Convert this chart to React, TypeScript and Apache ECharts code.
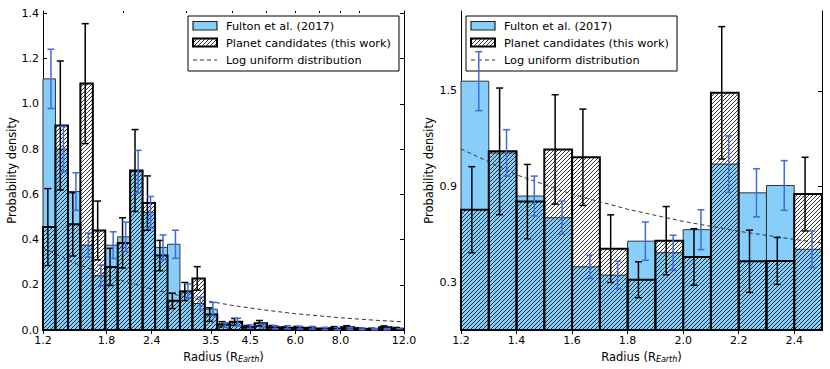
import React, { useEffect, useRef } from "react";
import * as echarts from "echarts";

const FONT = "DejaVu Sans";

// ---------- Left panel (log-spaced bins, R_Earth) ----------
const leftEdges = [1.2, 1.299, 1.407, 1.523, 1.649, 1.785, 1.932, 2.092, 2.265, 2.452, 2.655, 2.874, 3.112, 3.369, 3.647, 3.949, 4.275, 4.628, 5.011, 5.425, 5.873, 6.358, 6.884, 7.453, 8.069, 8.736, 9.457, 10.239, 11.085, 12.0];
const leftFulton = [1.11, 0.8, 0.612, 0.375, 0.24, 0.375, 0.412, 0.7, 0.52, 0.365, 0.379, 0.172, 0.117, 0.092, 0.022, 0.035, 0.015, 0.018, 0.012, 0.012, 0.01, 0.01, 0.007, 0.006, 0.006, 0.005, 0.004, 0.004, 0.003];
const leftFultonErr = [0.131, 0.1, 0.083, 0.053, 0.047, 0.059, 0.065, 0.094, 0.07, 0.055, 0.062, 0.032, 0.028, 0.03, 0.01, 0.017, 0.008, 0.008, 0.007, 0.007, 0.006, 0.006, 0.005, 0.005, 0.004, 0.004, 0.003, 0.003, 0.003];
const leftCand = [0.455, 0.904, 0.467, 1.089, 0.44, 0.279, 0.385, 0.705, 0.561, 0.329, 0.129, 0.17, 0.228, 0.068, 0.025, 0.036, 0.012, 0.03, 0.012, 0.008, 0.01, 0.006, 0.004, 0.009, 0.012, 0.005, 0.004, 0.012, 0.006];
const leftCandErr = [0.17, 0.285, 0.14, 0.265, 0.13, 0.082, 0.111, 0.181, 0.12, 0.067, 0.034, 0.04, 0.052, 0.03, 0.012, 0.015, 0.008, 0.012, 0.008, 0.006, 0.006, 0.005, 0.004, 0.006, 0.007, 0.005, 0.004, 0.006, 0.005];
const leftLogUniR = [1.2, 1.5, 2.0, 2.5, 3.0, 4.0, 5.0, 6.0, 8.0, 10.0, 12.0];
const leftLogUniP = [0.362, 0.29, 0.217, 0.174, 0.145, 0.109, 0.087, 0.072, 0.054, 0.043, 0.036];
const leftXTicks = [1.2, 1.8, 2.4, 3.5, 4.5, 6.0, 8.0, 12.0];
const leftXMinor = [2, 3, 4, 5, 6, 7, 8, 9];
const leftYTicks = [0, 0.2, 0.4, 0.6, 0.8, 1.0, 1.2, 1.4];

// ---------- Right panel (linear bins of 0.1 R_Earth) ----------
const rightEdges = [1.2, 1.3, 1.4, 1.5, 1.6, 1.7, 1.8, 1.9, 2.0, 2.1, 2.2, 2.3, 2.4, 2.5];
const rightFulton = [1.56, 1.11, 0.84, 0.704, 0.396, 0.344, 0.557, 0.484, 0.629, 1.04, 0.86, 0.906, 0.506];
const rightFultonErr = [0.185, 0.146, 0.125, 0.104, 0.073, 0.0875, 0.12, 0.11, 0.125, 0.177, 0.151, 0.156, 0.115];
const rightCand = [0.754, 1.12, 0.805, 1.132, 1.083, 0.51, 0.315, 0.56, 0.458, 1.487, 0.431, 0.433, 0.852];
const rightCandErr = [0.27, 0.397, 0.233, 0.343, 0.302, 0.212, 0.113, 0.214, 0.177, 0.415, 0.195, 0.147, 0.231];
const rightLogUniR = [1.2, 1.4, 1.6, 1.8, 2.0, 2.2, 2.4, 2.5];
const rightLogUniP = [1.135, 0.973, 0.851, 0.757, 0.681, 0.619, 0.568, 0.545];
const rightXTicks = [1.2, 1.4, 1.6, 1.8, 2.0, 2.2, 2.4];
const rightYTicks = [0.3, 0.9, 1.5];

const BLUE = "#87CEFA";
const ERR_BLUE = "#4169E1";
const HATCH_STEP = 4;

const lg = (v: number) => Math.log10(v);

function hatchSegments(x: number, y: number, w: number, h: number, s: number) {
  const out: number[][] = [];
  if (w <= 0 || h <= 0) return out;
  const cMin = x + y;
  const cMax = x + w + y + h;
  for (let k = Math.ceil(cMin / s); k * s <= cMax; k++) {
    const c = k * s;
    const xa = Math.max(x, c - (y + h));
    const xb = Math.min(x + w, c - y);
    if (xb - xa > 0.05) out.push([xa, c - xa, xb, c - xb]);
  }
  return out;
}

function hatchChildren(x: number, y: number, w: number, h: number) {
  return hatchSegments(x, y, w, h, HATCH_STEP).map((s) => ({
    type: "line",
    shape: { x1: s[0], y1: s[1], x2: s[2], y2: s[3] },
    style: { stroke: "#000", lineWidth: 0.8 },
  }));
}

function binData(edges: number[], vals: number[], errs: number[], useLog: boolean) {
  return vals.map((v, i) => [
    useLog ? lg(edges[i]) : edges[i],
    useLog ? lg(edges[i + 1]) : edges[i + 1],
    v,
    errs[i],
  ]);
}

function barRect(api: any) {
  const a = api.coord([api.value(0), api.value(2)]);
  const b = api.coord([api.value(1), 0]);
  return { x: a[0], y: a[1], width: b[0] - a[0], height: b[1] - a[1] };
}

const fultonRender = (_p: any, api: any) => {
  const r = barRect(api);
  return { type: "rect", shape: r, style: { fill: BLUE, stroke: "#333", lineWidth: 1 } };
};

const candRender = (_p: any, api: any) => {
  const r = barRect(api);
  const children: any[] = hatchChildren(r.x, r.y, r.width, r.height);
  children.push({ type: "rect", shape: r, style: { fill: "none", stroke: "#000", lineWidth: 2 } });
  return { type: "group", children };
};

const errRender = (offset: number, color: string) => (_p: any, api: any) => {
  const v = api.value(2);
  const e = api.value(3);
  const lo = v - e;
  const a = api.coord([api.value(0), v + e]);
  const b = api.coord([api.value(1), Math.max(0, lo)]);
  const cx = (a[0] + b[0]) / 2 + offset * (b[0] - a[0]);
  const cap = 3.5;
  const st = { stroke: color, lineWidth: 1.5 };
  const children: any[] = [
    { type: "line", shape: { x1: cx, y1: a[1], x2: cx, y2: b[1] }, style: st },
    { type: "line", shape: { x1: cx - cap, y1: a[1], x2: cx + cap, y2: a[1] }, style: st },
  ];
  if (lo > 0) children.push({ type: "line", shape: { x1: cx - cap, y1: b[1], x2: cx + cap, y2: b[1] }, style: st });
  return { type: "group", children };
};

const tickLabelStyle = { color: "#000", fontFamily: FONT, fontSize: 11 };
const axisLineStyle = { show: true, lineStyle: { color: "#000", width: 1 } };

function xAxesFor(grid: number, min: number, max: number, ticks: number[], fmt: (v: number) => string, minor?: number[]) {
  const axes: any[] = [
    {
      type: "value", gridIndex: grid, position: "bottom", min, max,
      axisLine: axisLineStyle,
      axisTick: { show: true, inside: true, length: 4, customValues: ticks, lineStyle: { color: "#000" } },
      axisLabel: { show: true, customValues: ticks, formatter: fmt, margin: 5, ...tickLabelStyle },
      splitLine: { show: false },
      name: "{a|Radius (R}{s|Earth}{a|)}",
      nameLocation: "middle",
      nameGap: 17,
      nameTextStyle: {
        color: "#000", fontFamily: FONT, fontSize: 11.5,
        rich: {
          a: { color: "#000", fontFamily: FONT, fontSize: 11.5 },
          s: { color: "#000", fontFamily: FONT, fontSize: 8, fontStyle: "italic", padding: [5, 0, 0, 0] },
        },
      },
    },
    {
      type: "value", gridIndex: grid, position: "top", min, max,
      axisLine: axisLineStyle,
      axisTick: { show: true, inside: true, length: 4, customValues: ticks, lineStyle: { color: "#000" } },
      axisLabel: { show: false },
      splitLine: { show: false },
    },
  ];
  if (minor) {
    for (const pos of ["bottom", "top"]) {
      axes.push({
        type: "value", gridIndex: grid, position: pos, min, max,
        axisLine: { show: false },
        axisTick: { show: true, inside: true, length: 2, customValues: minor, lineStyle: { color: "#000" } },
        axisLabel: { show: false },
        splitLine: { show: false },
      });
    }
  }
  return axes;
}

function yAxesFor(grid: number, max: number, ticks: number[], gap: number) {
  return [
    {
      type: "value", gridIndex: grid, position: "left", min: 0, max,
      axisLine: axisLineStyle,
      axisTick: { show: true, inside: true, length: 4, customValues: ticks, lineStyle: { color: "#000" } },
      axisLabel: { show: true, customValues: ticks, formatter: (v: number) => v.toFixed(1), margin: 4, ...tickLabelStyle },
      splitLine: { show: false },
      name: "Probability density",
      nameLocation: "middle",
      nameRotate: 90,
      nameGap: gap,
      nameTextStyle: { color: "#000", fontFamily: FONT, fontSize: 11.5 },
    },
    {
      type: "value", gridIndex: grid, position: "right", min: 0, max,
      axisLine: axisLineStyle,
      axisTick: { show: true, inside: true, length: 4, customValues: ticks, lineStyle: { color: "#000" } },
      axisLabel: { show: false },
      splitLine: { show: false },
    },
  ];
}

function legendGraphic(L: number, T: number) {
  const els: any[] = [];
  els.push({ type: "rect", shape: { x: L, y: T, width: 211, height: 55 }, style: { fill: "#fff", stroke: "#000", lineWidth: 1 }, z: 5 });
  els.push({ type: "rect", shape: { x: L + 5, y: T + 5.5, width: 24, height: 8.5 }, style: { fill: BLUE, stroke: "#222", lineWidth: 1.2 }, z: 6 });
  for (const c of hatchChildren(L + 5, T + 22.5, 24, 8)) els.push({ ...c, z: 6 });
  els.push({ type: "rect", shape: { x: L + 5, y: T + 22.5, width: 24, height: 8 }, style: { fill: "none", stroke: "#000", lineWidth: 2 }, z: 6 });
  els.push({ type: "line", shape: { x1: L + 5, y1: T + 44, x2: L + 29, y2: T + 44 }, style: { stroke: "#333", lineWidth: 1, lineDash: [4, 3] }, z: 6 });
  const labels = ["Fulton et al. (2017)", "Planet candidates (this work)", "Log uniform distribution"];
  const ys = [T + 10, T + 27, T + 44];
  labels.forEach((t, i) => {
    els.push({
      type: "text", x: L + 38, y: ys[i], z: 6,
      style: { text: t, fill: "#000", font: `11.3px '${FONT}'`, verticalAlign: "middle", align: "left" },
    });
  });
  return els;
}

const xFmtLog = (v: number) => Math.pow(10, v).toFixed(1);
const xFmtLin = (v: number) => v.toFixed(1);

function buildOption() {
  const xAxis = [
    ...xAxesFor(0, lg(1.2), lg(12), leftXTicks.map(lg), xFmtLog, leftXMinor.map(lg)),
    ...xAxesFor(1, 1.2, 2.5, rightXTicks, xFmtLin),
  ];
  const rightX = 4; // index of first right-panel x axis
  const yAxis = [...yAxesFor(0, 1.41, leftYTicks, 24), ...yAxesFor(1, 2.0, rightYTicks, 26)];

  const panels = [
    { xi: 0, yi: 0, edges: leftEdges, f: leftFulton, fe: leftFultonErr, c: leftCand, ce: leftCandErr, log: true, lr: leftLogUniR, lp: leftLogUniP },
    { xi: rightX, yi: 2, edges: rightEdges, f: rightFulton, fe: rightFultonErr, c: rightCand, ce: rightCandErr, log: false, lr: rightLogUniR, lp: rightLogUniP },
  ];
  const series: any[] = [];
  for (const p of panels) {
    const fd = binData(p.edges, p.f, p.fe, p.log);
    const cd = binData(p.edges, p.c, p.ce, p.log);
    series.push({ type: "custom", name: "Fulton et al. (2017)", xAxisIndex: p.xi, yAxisIndex: p.yi, data: fd, encode: { x: [0, 1], y: 2 }, renderItem: fultonRender, z: 2, silent: true });
    series.push({ type: "custom", name: "Planet candidates (this work)", xAxisIndex: p.xi, yAxisIndex: p.yi, data: cd, encode: { x: [0, 1], y: 2 }, renderItem: candRender, z: 3, silent: true });
    series.push({
      type: "line", name: "Log uniform distribution", xAxisIndex: p.xi, yAxisIndex: p.yi,
      data: p.lr.map((r, i) => [p.log ? lg(r) : r, p.lp[i]]),
      symbol: "none", showSymbol: false, smooth: false, z: 4, silent: true,
      lineStyle: { color: "#333", width: 1, type: [4, 3] },
    });
    series.push({ type: "custom", xAxisIndex: p.xi, yAxisIndex: p.yi, data: cd, encode: { x: [0, 1], y: 2 }, renderItem: errRender(-0.11, "#000"), z: 10, silent: true });
    series.push({ type: "custom", xAxisIndex: p.xi, yAxisIndex: p.yi, data: fd, encode: { x: [0, 1], y: 2 }, renderItem: errRender(0.14, ERR_BLUE), z: 10, silent: true });
  }

  return {
    animation: false,
    backgroundColor: "#fff",
    textStyle: { fontFamily: FONT },
    grid: [
      { left: 43, top: 11, width: 361, height: 319, containLabel: false, outerBoundsMode: "none" },
      { left: 461, top: 11, width: 361, height: 319, containLabel: false, outerBoundsMode: "none" },
    ],
    xAxis,
    yAxis,
    series,
    graphic: [...legendGraphic(188, 16), ...legendGraphic(466, 16)],
  };
}

export default function App() {
  const ref = useRef<HTMLDivElement>(null);
  useEffect(() => {
    if (!ref.current) return;
    const chart = echarts.init(ref.current, null, { renderer: "svg" });
    chart.setOption(buildOption() as any);
    return () => chart.dispose();
  }, []);
  return (
    <div
      ref={ref}
      style={{ position: "fixed", left: 0, top: 0, width: 830, height: 369, background: "#fff" }}
    />
  );
}
